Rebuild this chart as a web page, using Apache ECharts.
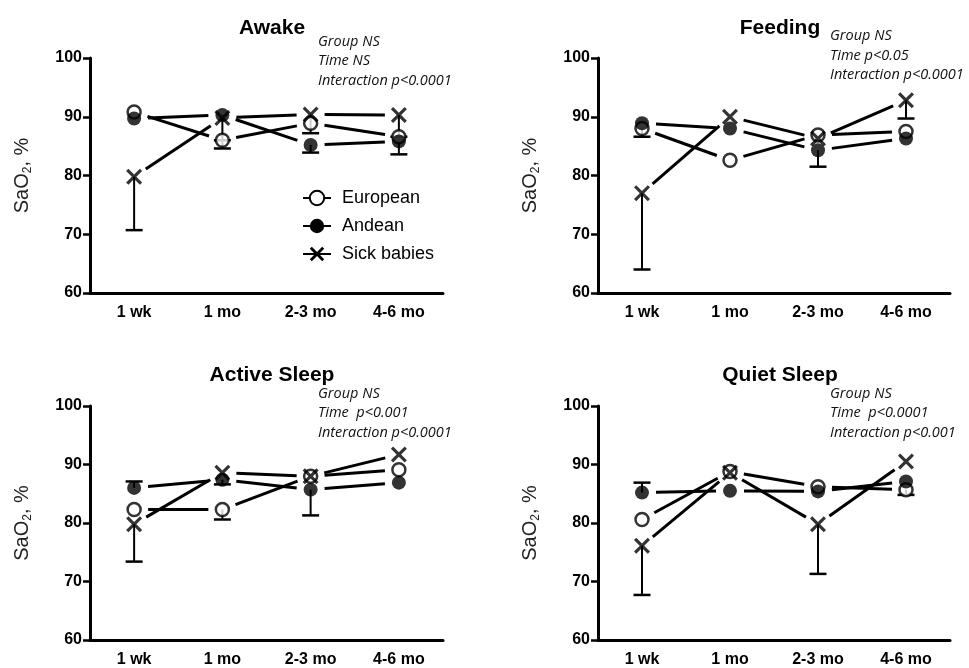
<!DOCTYPE html>
<html><head><meta charset="utf-8">
<script src="https://cdn.jsdelivr.net/npm/echarts@6/dist/echarts.min.js"></script>
<style>html,body{margin:0;padding:0;background:#fff}#c{width:969px;height:668px}</style>
</head><body><div id="c"></div>
<script>
// ---------- data ----------
const categories = ['1 wk', '1 mo', '2-3 mo', '4-6 mo'];
const groups = ['European', 'Andean', 'Sick babies'];
const yMin = 60, yMax = 100, yStep = 10;
const panelTitles = ['Awake', 'Feeding', 'Active Sleep', 'Quiet Sleep'];
const panelStats = [
  ['Group NS', 'Time NS', 'Interaction p<0.0001'],
  ['Group NS', 'Time p<0.05', 'Interaction p<0.0001'],
  ['Group NS', 'Time  p<0.001', 'Interaction p<0.0001'],
  ['Group NS', 'Time  p<0.0001', 'Interaction p<0.001']
];

// mean values
const awakeEuropean = [90.8, 86.0, 88.9, 86.6];
const awakeAndean   = [89.7, 90.3, 85.2, 85.8];
const awakeSick     = [79.8, 89.8, 90.4, 90.3];
const feedingEuropean = [88.0, 82.6, 86.9, 87.5];
const feedingAndean   = [88.9, 88.0, 84.3, 86.3];
const feedingSick     = [77.0, 90.0, 86.3, 92.8];
const activeEuropean = [82.3, 82.3, 88.0, 89.1];
const activeAndean   = [86.0, 87.4, 85.7, 86.9];
const activeSick     = [79.8, 88.6, 88.0, 91.7];
const quietEuropean = [80.6, 88.8, 86.2, 85.7];
const quietAndean   = [85.2, 85.5, 85.4, 87.1];
const quietSick     = [76.1, 88.6, 79.8, 90.5];

// one-sided error bar end values (null = no bar drawn)
const awakeEuropeanErr = [null, 84.6, null, null];
const awakeAndeanErr   = [null, null, 83.9, 83.6];
const awakeSickErr     = [70.7, 86.0, 87.2, 86.6];
const feedingEuropeanErr = [86.6, null, null, null];
const feedingAndeanErr   = [null, null, 81.5, null];
const feedingSickErr     = [64.0, null, null, 89.7];
const activeEuropeanErr = [null, 80.6, null, null];
const activeAndeanErr   = [87.1, 86.6, 81.3, null];
const activeSickErr     = [73.4, null, null, null];
const quietEuropeanErr = [null, null, null, 84.8];
const quietAndeanErr   = [86.9, null, null, null];
const quietSickErr     = [67.7, null, 71.3, null];

const panelValues = [
  [awakeEuropean, awakeAndean, awakeSick],
  [feedingEuropean, feedingAndean, feedingSick],
  [activeEuropean, activeAndean, activeSick],
  [quietEuropean, quietAndean, quietSick]
];
const panelErrors = [
  [awakeEuropeanErr, awakeAndeanErr, awakeSickErr],
  [feedingEuropeanErr, feedingAndeanErr, feedingSickErr],
  [activeEuropeanErr, activeAndeanErr, activeSickErr],
  [quietEuropeanErr, quietAndeanErr, quietSickErr]
];

// ---------- layout / style ----------
const FONT = '"Liberation Sans", Arial, sans-serif';
const grids = [
  {left: 90, top: 58, width: 353, height: 235},
  {left: 598, top: 58, width: 352, height: 235},
  {left: 90, top: 406, width: 353, height: 236},
  {left: 598, top: 406, width: 352, height: 236}
];
const titlePos = [[267, 13], [775, 13], [267, 360], [775, 360]];
const statPos = [[318, 32], [830, 26.5], [318, 384], [830, 384]];
const X_PATH = 'path://M14,0 L50,36 L86,0 L100,14 L64,50 L100,86 L86,100 L50,64 L14,100 L0,86 L36,50 L0,14 Z';
const symbolStyles = [
  {symbol: 'circle', symbolSize: 13, itemStyle: {color: '#fff', borderColor: '#000', borderWidth: 2.5}},
  {symbol: 'circle', symbolSize: 14, itemStyle: {color: '#000'}},
  {symbol: X_PATH, symbolSize: 16, itemStyle: {color: '#000'}}
];

function segRender(params, api) {
  const i = api.value(0);
  const p1 = api.coord([i, api.value(1)]);
  const p2 = api.coord([i + 1, api.value(2)]);
  const dx = p2[0] - p1[0], dy = p2[1] - p1[1];
  const len = Math.hypot(dx, dy);
  const g = 14;
  if (len < 2 * g + 2) return null;
  const ux = dx / len, uy = dy / len;
  return {
    type: 'line',
    shape: {x1: p1[0] + ux * g, y1: p1[1] + uy * g, x2: p2[0] - ux * g, y2: p2[1] - uy * g},
    style: {stroke: '#000', lineWidth: 3, lineCap: 'butt'}
  };
}
function errRender(params, api) {
  const i = api.value(0);
  const p1 = api.coord([i, api.value(1)]);
  const p2 = api.coord([i, api.value(2)]);
  return {
    type: 'group',
    children: [
      {type: 'line', shape: {x1: p1[0], y1: p1[1], x2: p2[0], y2: p2[1]}, style: {stroke: '#000', lineWidth: 2}},
      {type: 'line', shape: {x1: p2[0] - 8.5, y1: p2[1], x2: p2[0] + 8.5, y2: p2[1]}, style: {stroke: '#000', lineWidth: 2.5}}
    ]
  };
}

const xAxes = [], yAxes = [], series = [], titles = [], graphics = [];
grids.forEach((g, p) => {
  xAxes.push({
    type: 'category', gridIndex: p, data: categories, boundaryGap: true,
    axisLine: {lineStyle: {color: '#000', width: 3}},
    axisTick: {alignWithLabel: true, length: 8, lineStyle: {color: '#000', width: 2.5}},
    axisLabel: {color: '#000', fontWeight: 'bold', fontSize: 16, fontFamily: FONT, margin: 12},
    splitLine: {show: false}
  });
  yAxes.push({
    type: 'value', gridIndex: p, min: yMin, max: yMax, interval: yStep,
    axisLine: {show: true, lineStyle: {color: '#000', width: 3}},
    axisTick: {show: true, length: 7, lineStyle: {color: '#000', width: 2.5}},
    axisLabel: {color: '#000', fontWeight: 'bold', fontSize: 16, fontFamily: FONT, margin: 8},
    splitLine: {show: false},
    name: '{a|SaO}{s|2}{a|, %}', nameLocation: 'middle', nameGap: 56,
    nameTextStyle: {
      rich: {
        a: {fontSize: 20, fontFamily: FONT, color: '#222', lineHeight: 24},
        s: {fontSize: 12, fontFamily: FONT, color: '#222', lineHeight: 12, verticalAlign: 'bottom'}
      }
    }
  });
  titles.push({
    text: panelTitles[p], left: titlePos[p][0], top: titlePos[p][1], textAlign: 'center',
    textStyle: {fontSize: 21, fontWeight: 'bold', color: '#000', fontFamily: FONT}
  });
  graphics.push({
    type: 'text', left: statPos[p][0], top: statPos[p][1],
    style: {text: panelStats[p].join('\n'), font: 'italic 14.5px "Open Sans", sans-serif', fill: '#111', lineHeight: 19.5}
  });
  const vals = panelValues[p];
  const errs = panelErrors[p];
  // connecting lines (with gaps around symbols)
  vals.forEach((v, gi) => {
    series.push({
      type: 'custom', name: groups[gi] + ' line ' + p, xAxisIndex: p, yAxisIndex: p,
      renderItem: segRender, encode: {x: 0, y: 1}, silent: true,
      data: v.slice(0, -1).map((val, i) => [i, val, v[i + 1]])
    });
  });
  // error bars
  errs.forEach((e, gi) => {
    const d = [];
    e.forEach((end, i) => { if (end !== null) d.push([i, vals[gi][i], end]); });
    series.push({
      type: 'custom', name: groups[gi] + ' err ' + p, xAxisIndex: p, yAxisIndex: p,
      renderItem: errRender, encode: {x: 0, y: [1, 2]}, silent: true, data: d
    });
  });
  // symbols
  vals.forEach((v, gi) => {
    series.push(Object.assign({
      type: 'scatter', name: groups[gi] + ' pts ' + p, xAxisIndex: p, yAxisIndex: p,
      data: v.map((val, i) => [i, val]), silent: true
    }, symbolStyles[gi]));
  });
});
// legend-only series (no data)
groups.forEach((name, gi) => {
  series.push({
    type: 'line', name: name, xAxisIndex: 0, yAxisIndex: 0, data: [],
    symbol: gi === 2 ? X_PATH : 'circle', symbolSize: gi === 1 ? 14 : (gi === 2 ? 16 : 13),
    itemStyle: symbolStyles[gi].itemStyle,
    lineStyle: {color: '#000', width: 3}
  });
});

const chart = echarts.init(document.getElementById('c'), null, {renderer: 'canvas'});
chart.setOption({
  backgroundColor: '#fff',
  animation: false,
  title: titles,
  grid: grids,
  xAxis: xAxes,
  yAxis: yAxes,
  legend: {
    data: groups, left: 302, top: 189, orient: 'vertical', selectedMode: false, padding: 0,
    itemWidth: 28, itemHeight: 18, itemGap: 10,
    textStyle: {fontSize: 18, fontFamily: FONT, color: '#000', lineHeight: 18, padding: [0, 0, 0, 6]}
  },
  graphic: graphics,
  series: series
});
</script></body></html>
